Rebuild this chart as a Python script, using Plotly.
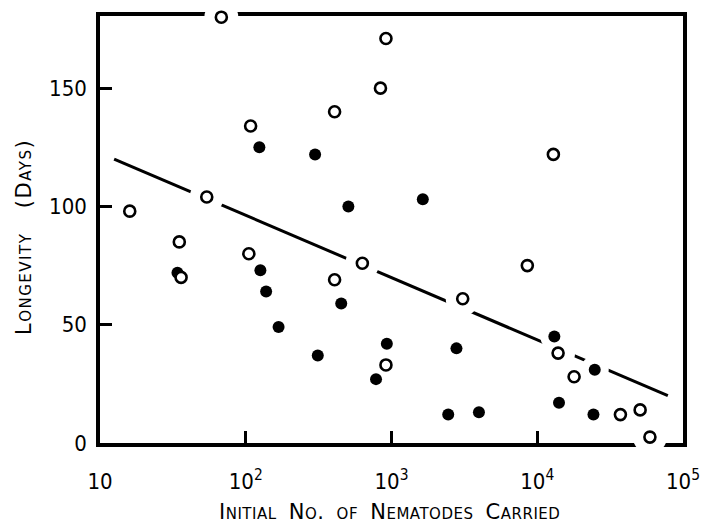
import plotly.graph_objects as go

# open circles
open_x = [16, 35, 36, 54, 68, 105, 108, 407, 407, 631, 840, 916, 916, 3080, 8550,
          12900, 13900, 17900, 37200, 50800, 59300]
open_y = [98, 85, 70, 104, 180, 80, 134, 140, 69, 76, 150, 171, 33, 61, 75,
          122, 38, 28, 12, 14, 2.5]
# filled circles
filled_x = [34, 124, 126, 138, 168, 299, 312, 452, 506, 783, 929, 1640, 2450, 2790,
            3980, 13100, 14100, 24300, 24800]
filled_y = [72, 125, 73, 64, 49, 122, 37, 59, 100, 27, 42, 103, 12, 40,
            13, 45, 17, 12, 31]
# regression line end points
line_x = [12.5, 78700]
line_y = [120, 20]

x_tickvals = [10, 100, 1000, 10000, 100000]
x_ticktext = ["10", "10<sup>2</sup>", "10<sup>3</sup>", "10<sup>4</sup>", "10<sup>5</sup>"]
y_tickvals = [0, 50, 100, 150]

x_title = "Initial No. of Nematodes Carried"
y_title = "Longevity\u00a0\u00a0\u00a0(Days)"

tick_font = dict(family="Liberation Sans Narrow, DejaVu Sans Condensed, Roboto Condensed, Roboto",
                 size=22, color="black")
title_font = dict(family="DejaVu Sans", size=21, color="black", variant="small-caps")

fig = go.Figure()
fig.add_trace(go.Scatter(x=line_x, y=line_y, mode="lines",
                         line=dict(color="black", width=3), showlegend=False,
                         hoverinfo="skip"))
# white halos (gaps in line / frame around points)
fig.add_trace(go.Scatter(x=filled_x, y=filled_y, mode="markers",
                         marker=dict(size=28, color="white", line=dict(width=0)),
                         showlegend=False, hoverinfo="skip", cliponaxis=False))
fig.add_trace(go.Scatter(x=open_x, y=open_y, mode="markers",
                         marker=dict(size=34, color="white", line=dict(width=0)),
                         showlegend=False, hoverinfo="skip", cliponaxis=False))
fig.add_trace(go.Scatter(x=filled_x, y=filled_y, mode="markers",
                         marker=dict(size=12, color="black", line=dict(width=0)),
                         showlegend=False, cliponaxis=False))
fig.add_trace(go.Scatter(x=open_x, y=open_y, mode="markers",
                         marker=dict(size=11, color="white", line=dict(width=2.6, color="black")),
                         showlegend=False, cliponaxis=False))

fig.update_xaxes(type="log", range=[1, 5], tickmode="array", tickvals=x_tickvals,
                 ticktext=x_ticktext, ticks="inside", ticklen=12, tickwidth=3,
                 tickcolor="black", showline=True, linewidth=3.5, linecolor="black",
                 mirror=True, showgrid=False, zeroline=False, layer="below traces",
                 tickfont=tick_font, ticklabelstandoff=16)
fig.update_yaxes(range=[0, 180.5], tickmode="array", tickvals=y_tickvals,
                 ticks="inside", ticklen=12, tickwidth=3,
                 tickcolor="black", showline=True, linewidth=3.5, linecolor="black",
                 mirror=True, showgrid=False, zeroline=False, layer="below traces",
                 tickfont=tick_font, ticklabelstandoff=5)
fig.add_annotation(xref="paper", yref="paper", x=0.497, y=-0.161,
                   xanchor="center", yanchor="middle", showarrow=False,
                   text='<span style="letter-spacing:0.5px;word-spacing:5px">' + x_title + '</span>',
                   font=title_font)
fig.add_annotation(xref="paper", yref="paper", x=-0.1294, y=0.4814,
                   xanchor="center", yanchor="middle", showarrow=False, textangle=-90,
                   text='<span style="letter-spacing:1.5px">' + y_title + '</span>',
                   font=title_font)
fig.update_layout(width=712, height=530, margin=dict(l=100, r=17, t=14, b=87),
                  paper_bgcolor="white", plot_bgcolor="white", showlegend=False)
fig.write_html("out.html", config={"displayModeBar": False},
               post_script="document.body.style.margin='0px';document.body.style.overflow='hidden';")
